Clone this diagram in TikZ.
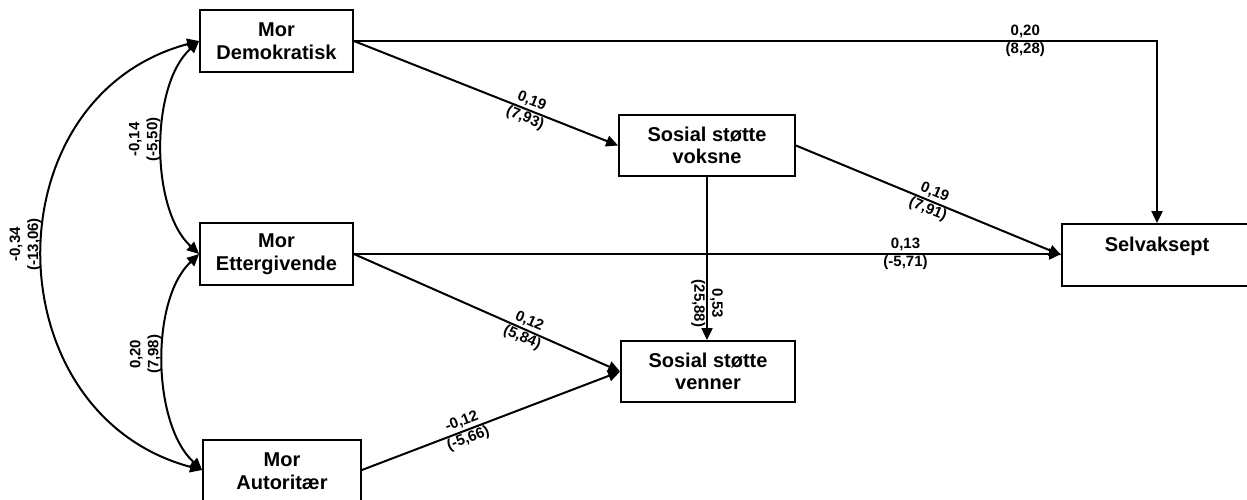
\documentclass[tikz,border=0pt]{standalone}
\usepackage{fontspec}
\setmainfont{Liberation Sans}
\usetikzlibrary{arrows.meta}
\begin{document}
\begin{tikzpicture}[x=1pt,y=1pt,
  box/.style={draw, line width=1.8pt, font=\fontsize{20}{22.5}\selectfont\bfseries, align=center, inner sep=0pt},
  arr/.style={line width=2pt, -{Triangle[length=12pt,width=11pt]}},
  dbl/.style={line width=2pt, {Triangle[length=12pt,width=11pt]}-{Triangle[length=12pt,width=11pt]}},
  lab/.style={font=\fontsize{15}{18}\selectfont\bfseries, align=center, inner sep=1pt}]
\useasboundingbox (0,0) rectangle (1247,-499);
\node[box, minimum width=153pt, minimum height=62pt] (dem) at (276.5,-41) {Mor\\Demokratisk};
\node[box, minimum width=153pt, minimum height=62pt] (ett) at (276.5,-254) {Mor\\Ettergivende};
\node[box, minimum width=158pt, minimum height=66pt, text depth=4pt] (aut) at (282,-473) {Mor\\Autoritær};
\node[box, minimum width=176pt, minimum height=61pt] (vok) at (707,-145.5) {Sosial støtte\\voksne};
\node[box, minimum width=174pt, minimum height=61pt] (ven) at (708,-371.5) {Sosial støtte\\venner};
\node[box, minimum width=190pt, minimum height=62pt] (selv) at (1157,-255) {Selvaksept\\\mbox{}};

\draw[arr] (dem.east) -| node[lab, pos=0.418]{0,20\\(8,28)} (selv.north);
\draw[arr] (dem.east) -- node[lab, sloped, pos=0.66]{0,19\\(7,93)} (vok.west);
\draw[arr] (vok.south) -- node[lab, rotate=-90, pos=0.776]{0,53\\(25,88)} (vok.south |- ven.north);
\draw[arr] (vok.east) -- node[lab, sloped, pos=0.51]{0,19\\(7,91)} (selv.west);
\draw[arr] (ett.east) -- node[lab, pos=0.78]{0,13\\(-5,71)} (ett.east -| selv.west);
\draw[arr] (ett.east) -- node[lab, sloped, pos=0.645]{0,12\\(5,84)} (ven.west);
\draw[arr] ([yshift=3pt]aut.east) -- node[lab, sloped, pos=0.40]{-0,12\\(-5,66)} (ven.west);

\draw[dbl] (dem.west) .. controls (150,-85) and (150,-209) .. node[lab, rotate=90, anchor=south, pos=0.47]{-0,14\\(-5,50)} (ett.west);
\draw[dbl] (ett.west) .. controls (150,-300) and (152,-424) .. node[lab, rotate=90, anchor=south, pos=0.47]{0,20\\(7,98)} ([yshift=3pt]aut.west);
\draw[dbl] (dem.west) .. controls (-11,-97) and (-8,-414) .. node[lab, rotate=90, anchor=south, pos=0.48]{-0,34\\(-13,06)} ([yshift=3pt]aut.west);
\end{tikzpicture}
\end{document}
